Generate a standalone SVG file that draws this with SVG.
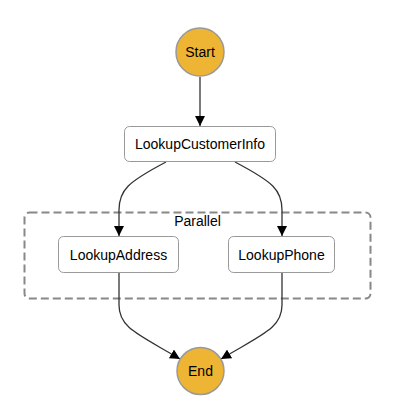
<svg xmlns="http://www.w3.org/2000/svg" width="404" height="418" viewBox="0 0 404 418">
<defs>
<marker id="arr" viewBox="0 0 10 10" refX="10" refY="5" markerWidth="10" markerHeight="10" markerUnits="userSpaceOnUse" orient="auto">
<path d="M0,0 L10,5 L0,10 z" fill="#000"/>
</marker>
</defs>
<style>
text{font-family:"Liberation Sans",Arial,sans-serif;font-size:14px;fill:#000;text-anchor:middle}
.task rect{fill:#fff;stroke:#999;stroke-width:1}
.term circle{fill:#EEB434;stroke:#999;stroke-width:1.5}
.edge{fill:none;stroke:#333;stroke-width:1.3;marker-end:url(#arr)}
</style>
<rect width="404" height="418" fill="#fff"/>
<g id="Parallel">
<rect x="24.5" y="212.5" width="346" height="86" rx="5" fill="none" stroke="#888" stroke-width="2" stroke-dasharray="8,4"/>
<text x="197.5" y="226">Parallel</text>
</g>
<g id="connectors">
<path class="edge" d="M200,77 L200,126"/>
<path class="edge" d="M166,162 C128,182 119,190 119,210 L119,236"/>
<path class="edge" d="M235,162 C273,182 282,190 282,210 L282,236"/>
<path class="edge" d="M119,273 L119,305 C119,328 138,334 180,359"/>
<path class="edge" d="M282,273 L282,305 C282,328 263,334 221,359"/>
</g>
<g id="Start" class="term">
<circle cx="200" cy="52" r="24"/>
<text x="200" y="57">Start</text>
</g>
<g id="LookupCustomerInfo" class="task">
<rect x="124.5" y="126.5" width="151" height="35" rx="5"/>
<text x="200" y="149">LookupCustomerInfo</text>
</g>
<g id="LookupAddress" class="task">
<rect x="58.5" y="236.5" width="120" height="36" rx="5"/>
<text x="118.5" y="259.5">LookupAddress</text>
</g>
<g id="LookupPhone" class="task">
<rect x="228.5" y="236.5" width="106" height="36" rx="5"/>
<text x="281.5" y="259.5">LookupPhone</text>
</g>
<g id="End" class="term">
<circle cx="200.5" cy="371" r="23.5"/>
<text x="200.5" y="376">End</text>
</g>
</svg>
